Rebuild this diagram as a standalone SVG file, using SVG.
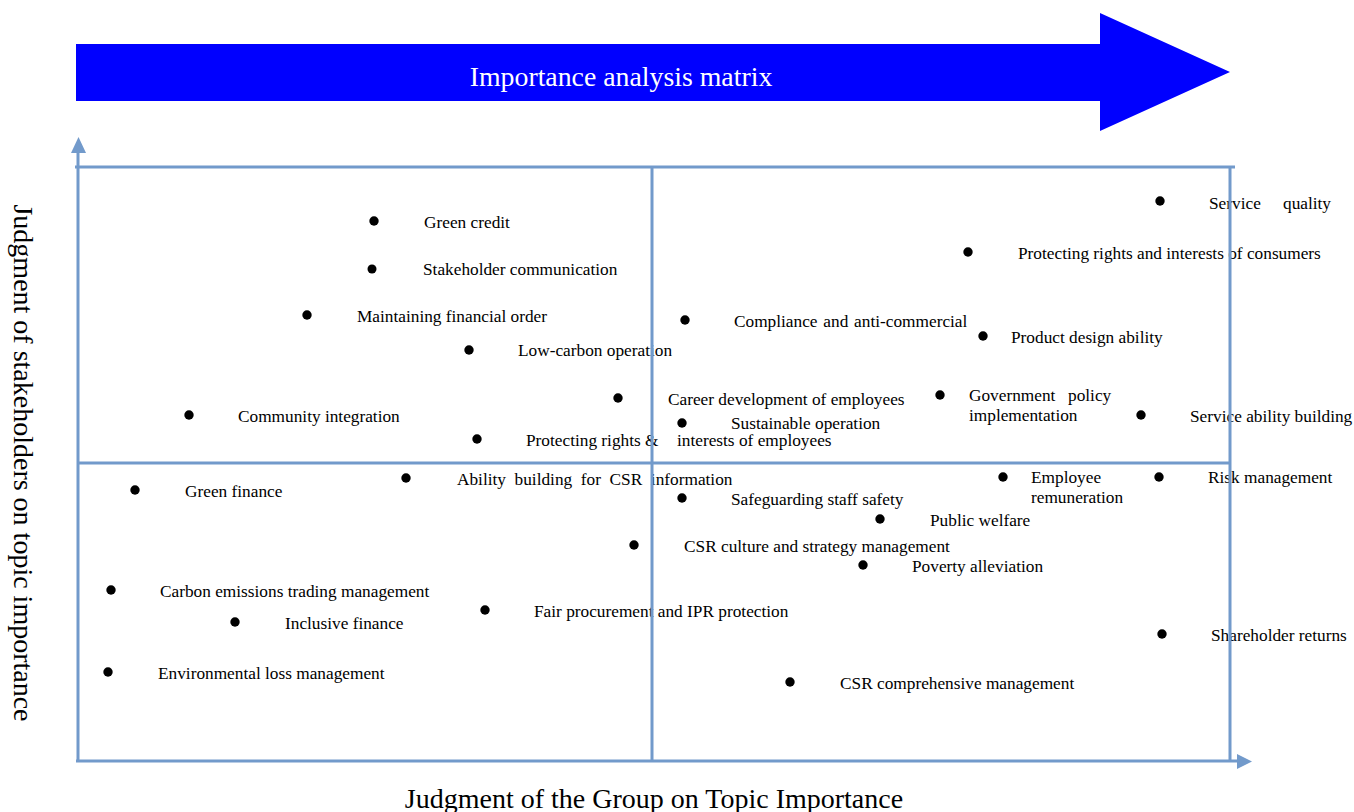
<svg xmlns="http://www.w3.org/2000/svg" width="1354" height="812" viewBox="0 0 1354 812">
  <defs>
    <style>
      .lbl { font-family: "Liberation Serif", "Times New Roman", serif; font-size: 17.3px; fill: #000; }
      .axis-title { font-family: "Liberation Serif", "Times New Roman", serif; font-size: 28px; fill: #000; }
      .dot { fill: #000; }
      .grid { stroke: #729ACB; stroke-width: 3; fill: none; }
      .head { fill: #729ACB; }
    </style>
  </defs>
  <rect width="1354" height="812" fill="#fff"/>

  <!-- banner arrow -->
  <g id="banner">
    <polygon points="76,44 1100,44 1100,13 1230,72 1100,131 1100,101 76,101" fill="#0000FF"/>
    <text x="621" y="86" text-anchor="middle" font-family="'Liberation Serif', 'Times New Roman', serif" font-size="27.8px" fill="#fff">Importance analysis matrix</text>
  </g>

  <!-- axis titles -->
  <text id="x-title" class="axis-title" x="654" y="808" text-anchor="middle">Judgment of the Group on Topic Importance</text>
  <text id="y-title" class="axis-title" transform="translate(14,463) rotate(90)" text-anchor="middle">Judgment of stakeholders on topic importance</text>

  <!-- topics -->
  <g id="green-credit"><circle class="dot" cx="374" cy="221" r="4.7"/><text class="lbl" x="424" y="228">Green credit</text></g>
  <g id="stakeholder-communication"><circle class="dot" cx="372" cy="269" r="4.5"/><text class="lbl" x="423" y="275">Stakeholder communication</text></g>
  <g id="maintaining-financial-order"><circle class="dot" cx="307" cy="315" r="4.7"/><text class="lbl" x="357" y="322">Maintaining financial order</text></g>
  <g id="low-carbon-operation"><circle class="dot" cx="469" cy="350" r="4.7"/><text class="lbl" x="518" y="356">Low-carbon operation</text></g>
  <g id="community-integration"><circle class="dot" cx="189" cy="415" r="4.7"/><text class="lbl" x="238" y="422">Community integration</text></g>
  <g id="protecting-employees"><circle class="dot" cx="477" cy="439" r="4.7"/><text class="lbl" x="526" y="446">Protecting rights &amp;</text><text class="lbl" x="677" y="446">interests of employees</text></g>
  <g id="compliance"><circle class="dot" cx="685" cy="320" r="4.7"/><text class="lbl" x="734" y="327" word-spacing="1.5">Compliance and anti-commercial</text></g>
  <g id="career-development"><circle class="dot" cx="618" cy="398" r="4.7"/><text class="lbl" x="668" y="405">Career development of employees</text></g>
  <g id="sustainable-operation"><circle class="dot" cx="682" cy="423" r="4.7"/><text class="lbl" x="731" y="429">Sustainable operation</text></g>
  <g id="government-policy"><circle class="dot" cx="940" cy="395" r="4.7"/><text class="lbl" x="969" y="401">Government</text><text class="lbl" x="1068" y="401">policy</text><text class="lbl" x="969" y="421">implementation</text></g>
  <g id="product-design"><circle class="dot" cx="983" cy="336" r="4.7"/><text class="lbl" x="1011" y="343">Product design ability</text></g>
  <g id="protecting-consumers"><circle class="dot" cx="968" cy="252" r="4.7"/><text class="lbl" x="1018" y="259">Protecting rights and interests of consumers</text></g>
  <g id="service-quality"><circle class="dot" cx="1160" cy="201" r="4.7"/><text class="lbl" x="1209" y="209">Service</text><text class="lbl" x="1283" y="209">quality</text></g>
  <g id="service-ability"><circle class="dot" cx="1141" cy="415" r="4.7"/><text class="lbl" x="1190" y="422">Service ability building</text></g>
  <g id="risk-management"><circle class="dot" cx="1159" cy="477" r="4.7"/><text class="lbl" x="1208" y="483">Risk management</text></g>
  <g id="employee-remuneration"><circle class="dot" cx="1003" cy="477" r="4.7"/><text class="lbl" x="1031" y="483">Employee</text><text class="lbl" x="1031" y="503">remuneration</text></g>
  <g id="csr-information"><circle class="dot" cx="406" cy="478" r="4.7"/><text class="lbl" x="457" y="485" word-spacing="4.3">Ability building for CSR information</text></g>
  <g id="green-finance"><circle class="dot" cx="135" cy="490" r="4.7"/><text class="lbl" x="185" y="497">Green finance</text></g>
  <g id="staff-safety"><circle class="dot" cx="682" cy="498" r="4.7"/><text class="lbl" x="731" y="505">Safeguarding staff safety</text></g>
  <g id="public-welfare"><circle class="dot" cx="880" cy="519" r="4.7"/><text class="lbl" x="930" y="526">Public welfare</text></g>
  <g id="csr-culture"><circle class="dot" cx="634" cy="545" r="4.7"/><text class="lbl" x="684" y="552">CSR culture and strategy management</text></g>
  <g id="poverty-alleviation"><circle class="dot" cx="863" cy="565" r="4.7"/><text class="lbl" x="912" y="572">Poverty alleviation</text></g>
  <g id="carbon-trading"><circle class="dot" cx="111" cy="590" r="4.7"/><text class="lbl" x="160" y="597">Carbon emissions trading management</text></g>
  <g id="inclusive-finance"><circle class="dot" cx="235" cy="622" r="4.7"/><text class="lbl" x="285" y="629">Inclusive finance</text></g>
  <g id="fair-procurement"><circle class="dot" cx="485" cy="610" r="4.7"/><text class="lbl" x="534" y="617">Fair procurement and IPR protection</text></g>
  <g id="shareholder-returns"><circle class="dot" cx="1162" cy="634" r="4.7"/><text class="lbl" x="1211" y="641">Shareholder returns</text></g>
  <g id="environmental-loss"><circle class="dot" cx="108" cy="672" r="4.7"/><text class="lbl" x="158" y="679">Environmental loss management</text></g>
  <g id="csr-comprehensive"><circle class="dot" cx="790" cy="682" r="4.7"/><text class="lbl" x="840" y="689">CSR comprehensive management</text></g>

  <!-- axes and quadrant lines, drawn over the labels -->
  <g id="connectors">
    <line class="grid" x1="78" y1="762" x2="78" y2="150"/>
    <polygon class="head" points="71,153 78.5,137 86,153"/>
    <line class="grid" x1="76" y1="761" x2="1239" y2="761"/>
    <polygon class="head" points="1237,754 1252,761.5 1237,769"/>
    <line class="grid" x1="75" y1="167" x2="1235" y2="167"/>
    <line class="grid" x1="1230" y1="167" x2="1230" y2="761"/>
    <line class="grid" x1="652" y1="167" x2="652" y2="761"/>
    <line class="grid" x1="78" y1="463" x2="1230" y2="463"/>
  </g>
</svg>
